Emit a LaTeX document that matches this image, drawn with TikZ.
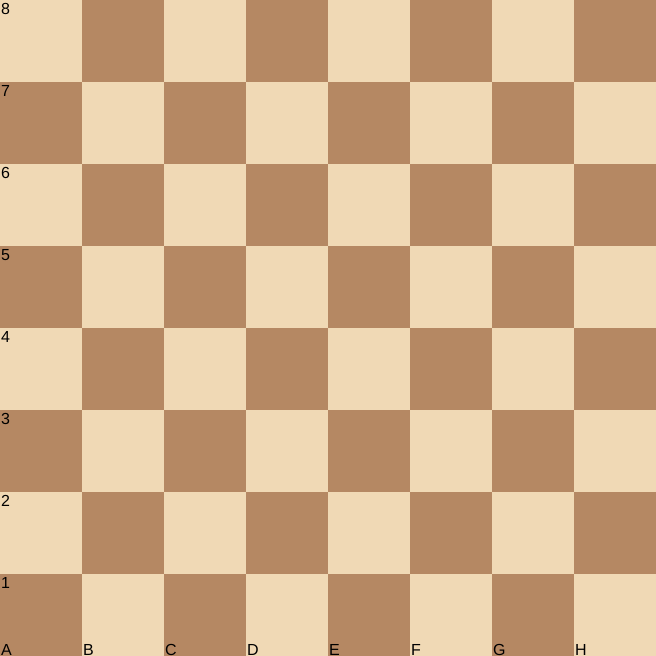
\documentclass[tikz,border=0pt]{standalone}
\usepackage{fontspec}
\setmainfont{Liberation Sans}
\definecolor{lightsq}{HTML}{F0D9B5}
\definecolor{darksq}{HTML}{B58863}
\begin{document}
\begin{tikzpicture}[x=1pt,y=1pt,
  lbl/.style={anchor=base west,inner sep=0pt,font=\fontsize{16}{16}\selectfont,text=black}]
\useasboundingbox (0,0) rectangle (656,656);
\foreach \i in {0,...,7}{
  \foreach \j in {0,...,7}{
    \pgfmathtruncatemacro{\sqpar}{mod(\i+\j,2)}
    \ifnum\sqpar=0
      \fill[lightsq] (\i*82,656-\j*82) rectangle ++(82,-82);
    \else
      \fill[darksq] (\i*82,656-\j*82) rectangle ++(82,-82);
    \fi
  }
}
\foreach \r [count=\j from 0] in {8,7,6,5,4,3,2,1}{
  \node[lbl] (rank\r) at (1,656-\j*82-15) {\r};
}
\foreach \f [count=\i from 0] in {A,B,C,D,E,F,G,H}{
  \node[lbl] (file\f) at (\i*82+1,0.5) {\f};
}
\end{tikzpicture}
\end{document}
